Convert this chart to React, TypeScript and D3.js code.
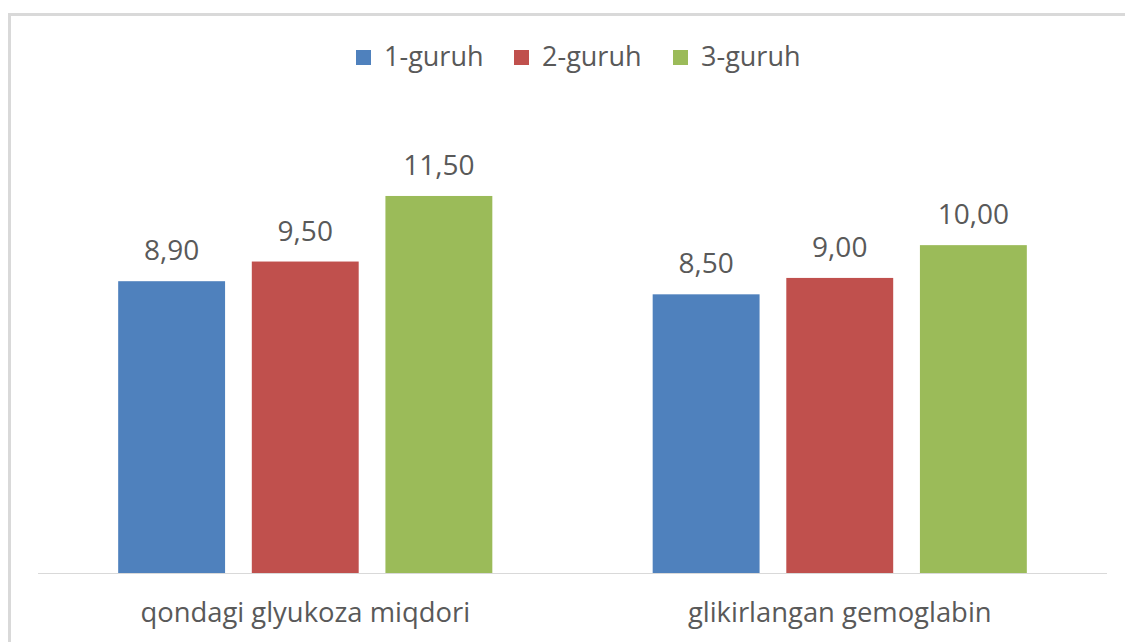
import React from "react";
import * as d3 from "d3";

const width = 1125;
const height = 642;

const categories = ["qondagi glyukoza miqdori", "glikirlangan gemoglabin"];
const seriesNames = ["1-guruh", "2-guruh", "3-guruh"];
const seriesColors = ["#4F81BD", "#C0504D", "#9BBB59"];
const group1 = [8.9, 9.5, 11.5];
const group2 = [8.5, 9.0, 10.0];
const values = [group1, group2];

const font = "'Open Sans', sans-serif";
const textColor = "#595959";

const baseY = 573;
const plotLeft = 38;
const plotRight = 1107;

const x0 = d3.scaleBand<string>().domain(categories).range([plotLeft, plotRight]);
const x1 = d3
  .scaleBand<string>()
  .domain(seriesNames)
  .range([0, x0.bandwidth()])
  .paddingInner(0.2)
  .paddingOuter(0.6);
const y = d3.scaleLinear().domain([0, 14]).range([baseY, 114]);

const fmt = (v: number) => v.toFixed(2).replace(".", ",");

// legend positions (left edge of swatch)
const legendX = [356, 514, 673];

const App = () => {
  return (
    <svg
      width={width}
      height={height}
      style={{ position: "absolute", left: 0, top: 0, background: "#fff" }}
    >
      {/* chart frame, cut at right and bottom */}
      <line x1={9.5} y1={13} x2={9.5} y2={height} stroke="#D9D9D9" strokeWidth={3} />
      <line x1={8} y1={14.5} x2={width} y2={14.5} stroke="#D9D9D9" strokeWidth={3} />

      {/* legend */}
      {seriesNames.map((s, i) => (
        <g key={s}>
          <rect x={legendX[i]} y={50} width={15} height={15} fill={seriesColors[i]} />
          <text
            x={legendX[i] + 28}
            y={66}
            fontFamily={font}
            fontSize={27}
            fill={textColor}
          >
            {s}
          </text>
        </g>
      ))}

      {/* bars */}
      {categories.map((c, ci) => (
        <g key={c} transform={`translate(${x0(c)},0)`}>
          {seriesNames.map((s, si) => {
            const v = values[ci][si];
            const bx = x1(s) as number;
            return (
              <g key={s}>
                <rect
                  x={bx}
                  y={y(v)}
                  width={x1.bandwidth()}
                  height={baseY - y(v)}
                  fill={seriesColors[si]}
                />
                <text
                  x={bx + x1.bandwidth() / 2}
                  y={y(v) - 21}
                  textAnchor="middle"
                  fontFamily={font}
                  fontSize={28}
                  fill={textColor}
                >
                  {fmt(v)}
                </text>
              </g>
            );
          })}
          <text
            x={x0.bandwidth() / 2}
            y={622}
            textAnchor="middle"
            fontFamily={font}
            fontSize={27.4}
            fill={textColor}
          >
            {c}
          </text>
        </g>
      ))}

      {/* baseline */}
      <line x1={plotLeft} y1={baseY + 0.5} x2={plotRight} y2={baseY + 0.5} stroke="#D9D9D9" strokeWidth={1} />
    </svg>
  );
};

export default App;
